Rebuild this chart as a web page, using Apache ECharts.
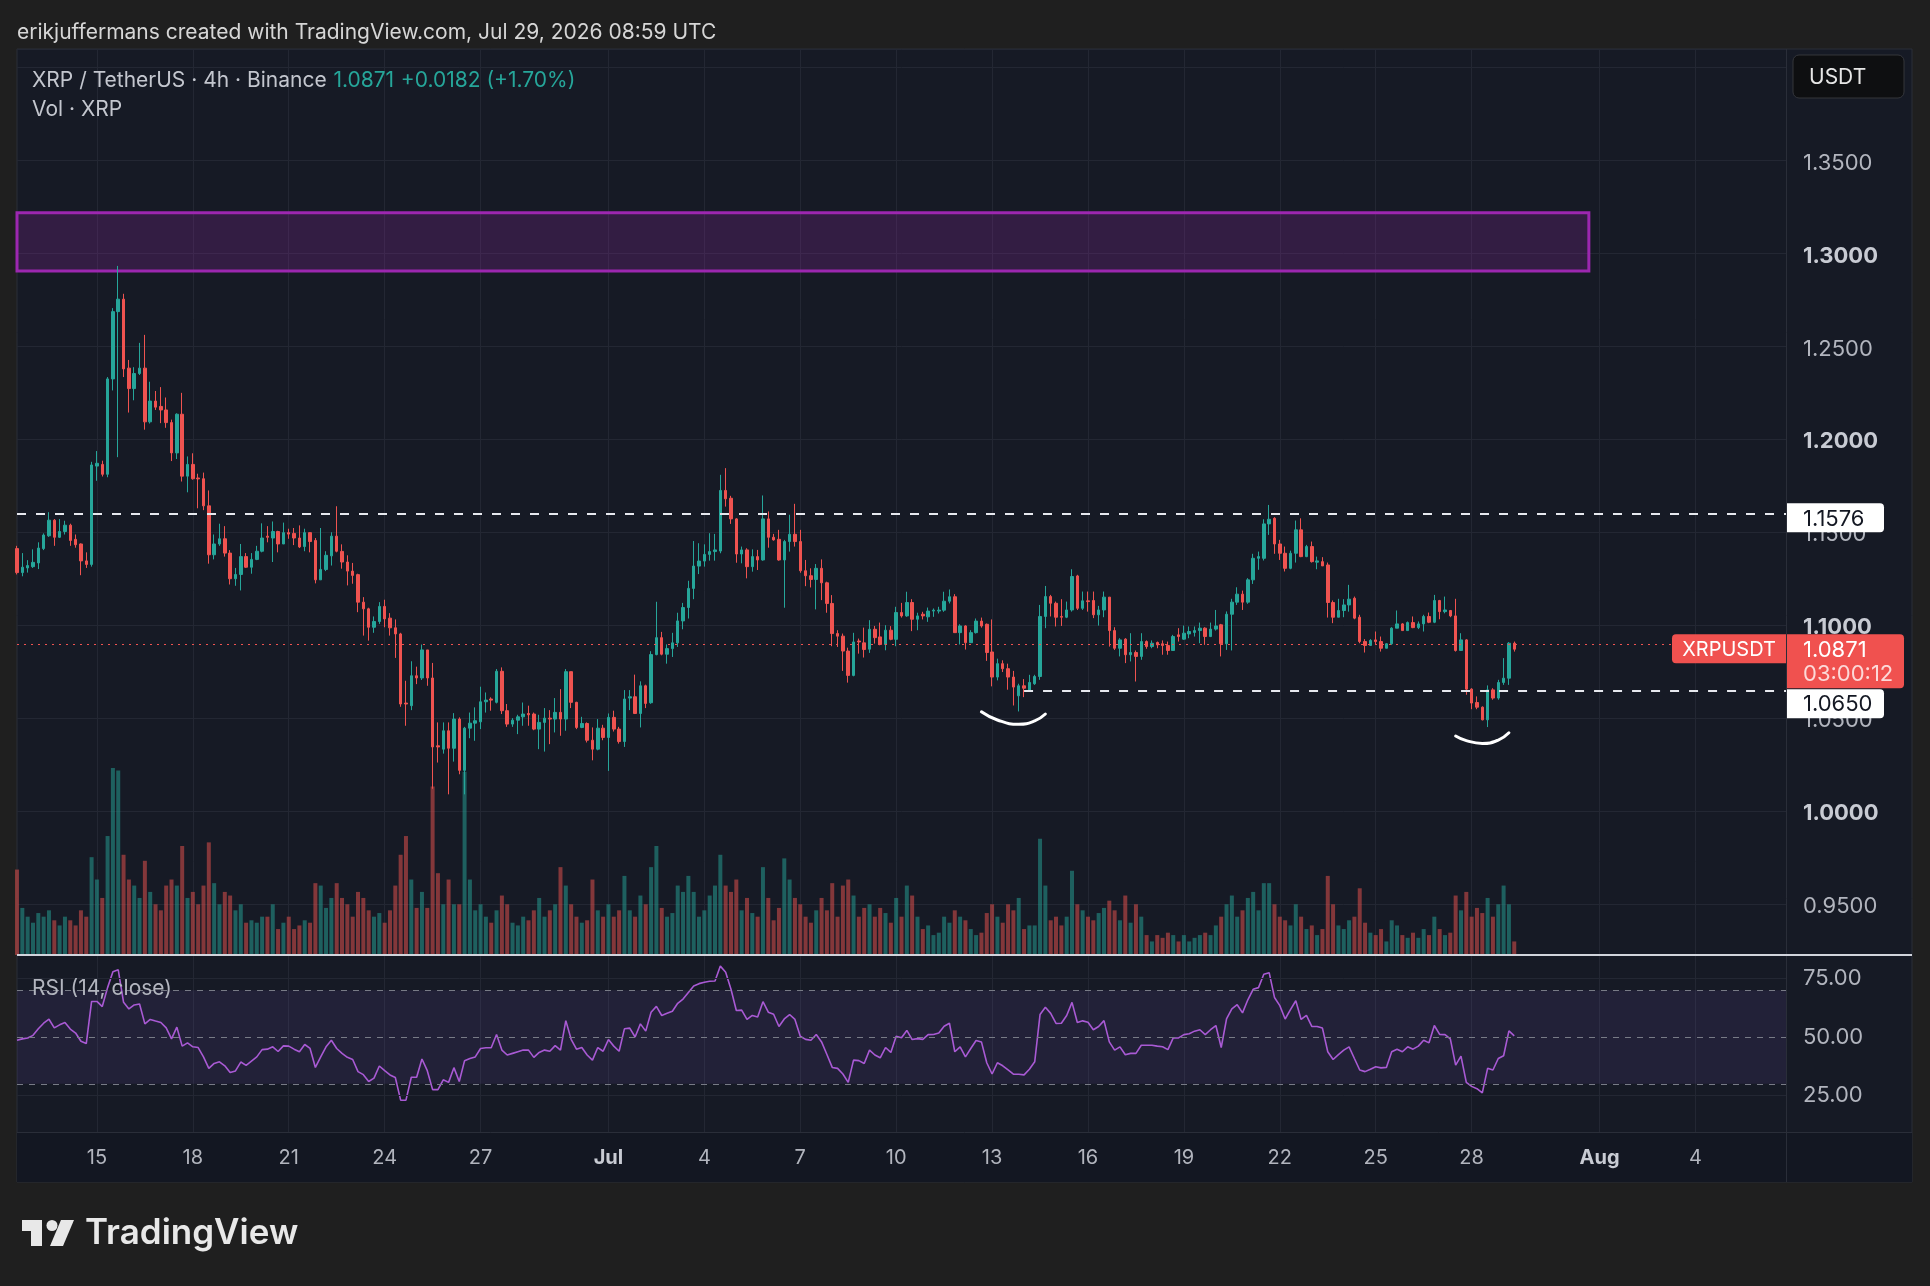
<!DOCTYPE html>
<html>
<head>
<meta charset="utf-8">
<style>
  html, body { margin: 0; padding: 0; background: #1f1f1f; }
  #main { width: 1930px; height: 1286px; }
</style>
<script src="https://cdn.jsdelivr.net/npm/echarts@6/dist/echarts.min.js"></script>
</head>
<body>
<div id="main"></div>
<script>
// XRP/USDT 4h candles starting 2026-06-12 12:00 UTC, each row [open, close, low, high]
var ohlc = [
  [1.1412,1.1283,1.1273,1.1427],[1.1283,1.1312,1.1263,1.1388],[1.1308,1.1321,1.1283,1.1350],[1.1315,1.1338,1.1308,1.1408],
  [1.1335,1.1415,1.1302,1.1446],[1.1412,1.1485,1.1404,1.1494],[1.1481,1.1565,1.1475,1.1608],[1.1565,1.1473,1.1427,1.1571],
  [1.1473,1.1504,1.1469,1.1571],[1.1504,1.1538,1.1488,1.1562],[1.1538,1.1456,1.1427,1.1546],[1.1462,1.1433,1.1417,1.1488],
  [1.1437,1.1346,1.1269,1.1440],[1.1346,1.1327,1.1308,1.1392],[1.1327,1.1862,1.1315,1.1879],[1.1856,1.1871,1.1777,1.1937],
  [1.1865,1.1812,1.1800,1.1885],[1.1812,1.2325,1.1796,1.2335],[1.2325,1.2687,1.2263,1.2706],[1.2687,1.2754,1.1904,1.2933],
  [1.2754,1.2379,1.2335,1.2783],[1.2383,1.2273,1.2144,1.2427],[1.2273,1.2354,1.2210,1.2388],[1.2354,1.2383,1.2346,1.2519],
  [1.2383,1.2094,1.2052,1.2562],[1.2094,1.2206,1.2085,1.2310],[1.2206,1.2173,1.2158,1.2260],[1.2177,1.2158,1.2087,1.2281],
  [1.2158,1.2090,1.2062,1.2225],[1.2090,1.1927,1.1883,1.2106],[1.1927,1.2135,1.1894,1.2140],[1.2135,1.1802,1.1773,1.2250],
  [1.1802,1.1865,1.1715,1.1908],[1.1865,1.1788,1.1783,1.1925],[1.1792,1.1787,1.1629,1.1815],[1.1788,1.1642,1.1619,1.1821],
  [1.1642,1.1379,1.1331,1.1725],[1.1379,1.1437,1.1354,1.1488],[1.1437,1.1465,1.1427,1.1546],[1.1465,1.1388,1.1369,1.1533],
  [1.1388,1.1250,1.1219,1.1404],[1.1250,1.1273,1.1212,1.1308],[1.1273,1.1369,1.1187,1.1437],[1.1369,1.1312,1.1308,1.1388],
  [1.1312,1.1354,1.1277,1.1388],[1.1354,1.1398,1.1350,1.1427],[1.1398,1.1469,1.1392,1.1548],[1.1479,1.1473,1.1446,1.1533],
  [1.1469,1.1504,1.1340,1.1558],[1.1504,1.1437,1.1392,1.1508],[1.1437,1.1498,1.1437,1.1552],[1.1498,1.1490,1.1465,1.1519],
  [1.1494,1.1469,1.1431,1.1523],[1.1469,1.1421,1.1415,1.1537],[1.1423,1.1498,1.1398,1.1519],[1.1498,1.1450,1.1392,1.1500],
  [1.1456,1.1244,1.1225,1.1469],[1.1244,1.1300,1.1244,1.1523],[1.1300,1.1376,1.1291,1.1398],[1.1373,1.1479,1.1321,1.1500],
  [1.1479,1.1398,1.1392,1.1640],[1.1397,1.1340,1.1304,1.1435],[1.1340,1.1291,1.1214,1.1376],[1.1291,1.1268,1.1223,1.1335],
  [1.1272,1.1124,1.1070,1.1277],[1.1124,1.1088,1.0944,1.1151],[1.1088,1.0989,1.0917,1.1094],[1.0989,1.1020,1.0959,1.1047],
  [1.1020,1.1101,1.1007,1.1124],[1.1101,1.1034,1.0989,1.1137],[1.1038,1.0986,1.0944,1.1065],[1.0986,1.0953,1.0824,1.1031],
  [1.0953,1.0576,1.0561,1.0959],[1.0581,1.0576,1.0459,1.0701],[1.0567,1.0728,1.0543,1.0806],[1.0728,1.0716,1.0683,1.0777],
  [1.0716,1.0867,1.0705,1.0896],[1.0867,1.0716,1.0674,1.0867],[1.0716,1.0345,1.0120,1.0797],[1.0351,1.0345,1.0261,1.0477],
  [1.0333,1.0432,1.0309,1.0477],[1.0432,1.0338,1.0090,1.0477],[1.0338,1.0495,1.0266,1.0527],[1.0495,1.0219,1.0198,1.0504],
  [1.0219,1.0446,1.0090,1.0453],[1.0446,1.0473,1.0392,1.0530],[1.0473,1.0486,1.0378,1.0558],[1.0480,1.0588,1.0441,1.0669],
  [1.0588,1.0597,1.0530,1.0638],[1.0603,1.0597,1.0540,1.0612],[1.0585,1.0752,1.0579,1.0764],[1.0752,1.0540,1.0522,1.0773],
  [1.0540,1.0468,1.0453,1.0576],[1.0468,1.0489,1.0453,1.0500],[1.0489,1.0507,1.0414,1.0518],[1.0507,1.0522,1.0459,1.0584],
  [1.0525,1.0518,1.0459,1.0567],[1.0522,1.0441,1.0435,1.0530],[1.0441,1.0477,1.0333,1.0518],[1.0477,1.0500,1.0320,1.0554],
  [1.0500,1.0495,1.0360,1.0543],[1.0495,1.0531,1.0423,1.0608],[1.0531,1.0495,1.0405,1.0656],[1.0495,1.0750,1.0432,1.0764],
  [1.0750,1.0585,1.0554,1.0750],[1.0585,1.0450,1.0441,1.0588],[1.0450,1.0471,1.0446,1.0507],[1.0471,1.0381,1.0369,1.0477],
  [1.0381,1.0333,1.0273,1.0450],[1.0333,1.0446,1.0327,1.0495],[1.0446,1.0396,1.0381,1.0464],[1.0396,1.0504,1.0216,1.0525],
  [1.0504,1.0441,1.0428,1.0540],[1.0441,1.0374,1.0363,1.0453],[1.0374,1.0603,1.0345,1.0651],[1.0608,1.0615,1.0543,1.0651],
  [1.0615,1.0525,1.0522,1.0734],[1.0525,1.0674,1.0450,1.0698],[1.0674,1.0579,1.0554,1.0680],[1.0583,1.0842,1.0577,1.0860],
  [1.0842,1.0933,1.0838,1.1126],[1.0933,1.0844,1.0838,1.0964],[1.0844,1.0874,1.0793,1.0897],[1.0874,1.0905,1.0829,1.0959],
  [1.0905,1.1023,1.0883,1.1067],[1.1023,1.1095,1.0978,1.1120],[1.1095,1.1198,1.1036,1.1239],[1.1198,1.1318,1.1140,1.1453],
  [1.1318,1.1345,1.1275,1.1441],[1.1345,1.1381,1.1315,1.1435],[1.1381,1.1396,1.1347,1.1495],[1.1396,1.1405,1.1347,1.1491],
  [1.1399,1.1725,1.1387,1.1809],[1.1725,1.1680,1.1638,1.1845],[1.1683,1.1572,1.1545,1.1696],[1.1572,1.1383,1.1336,1.1576],
  [1.1383,1.1405,1.1333,1.1423],[1.1405,1.1315,1.1252,1.1414],[1.1315,1.1369,1.1288,1.1408],[1.1369,1.1351,1.1297,1.1405],
  [1.1351,1.1572,1.1347,1.1698],[1.1572,1.1473,1.1417,1.1612],[1.1473,1.1459,1.1455,1.1491],[1.1462,1.1351,1.1347,1.1513],
  [1.1351,1.1450,1.1094,1.1459],[1.1450,1.1489,1.1396,1.1594],[1.1489,1.1450,1.1423,1.1653],[1.1450,1.1293,1.1282,1.1513],
  [1.1293,1.1266,1.1210,1.1351],[1.1266,1.1246,1.1203,1.1306],[1.1246,1.1306,1.1085,1.1329],[1.1306,1.1228,1.1135,1.1354],
  [1.1228,1.1117,1.1067,1.1234],[1.1117,1.0955,1.0887,1.1162],[1.0955,1.0941,1.0883,1.0973],[1.0941,1.0861,1.0754,1.0955],
  [1.0861,1.0730,1.0691,1.0879],[1.0730,1.0910,1.0725,1.0959],[1.0915,1.0910,1.0847,1.0928],[1.0905,1.0869,1.0826,1.0987],
  [1.0871,1.0978,1.0851,1.1027],[1.0978,1.0933,1.0901,1.0996],[1.0937,1.0896,1.0892,1.1014],[1.0896,1.0973,1.0865,1.1000],
  [1.0973,1.0924,1.0919,1.0995],[1.0924,1.1068,1.0887,1.1099],[1.1068,1.1050,1.1041,1.1120],[1.1050,1.1122,1.1045,1.1180],
  [1.1122,1.1032,1.0968,1.1140],[1.1032,1.1050,1.0973,1.1067],[1.1059,1.1050,1.1031,1.1072],[1.1045,1.1076,1.1018,1.1095],
  [1.1076,1.1081,1.1045,1.1090],[1.1076,1.1081,1.1063,1.1099],[1.1081,1.1129,1.1072,1.1180],[1.1129,1.1153,1.1117,1.1192],
  [1.1153,1.0960,1.0959,1.1167],[1.0960,1.0996,1.0896,1.1005],[1.0996,1.0906,1.0869,1.1000],[1.0906,1.0960,1.0905,1.0973],
  [1.0960,1.1022,1.0955,1.1036],[1.1022,1.0996,1.0987,1.1041],[1.1005,1.0853,1.0808,1.1009],[1.0856,1.0721,1.0671,1.1031],
  [1.0721,1.0793,1.0703,1.0820],[1.0793,1.0766,1.0748,1.0811],[1.0766,1.0721,1.0653,1.0793],[1.0721,1.0667,1.0568,1.0754],
  [1.0620,1.0674,1.0536,1.0685],[1.0674,1.0661,1.0613,1.0710],[1.0649,1.0692,1.0643,1.0733],[1.0685,1.0724,1.0679,1.0733],
  [1.0724,1.1047,1.0706,1.1109],[1.1047,1.1154,1.0984,1.1211],[1.1154,1.1118,1.1047,1.1163],[1.1118,1.1043,1.0993,1.1127],
  [1.1047,1.1043,1.0996,1.1140],[1.1043,1.1082,1.1038,1.1127],[1.1082,1.1262,1.1073,1.1301],[1.1265,1.1091,1.1082,1.1271],
  [1.1091,1.1131,1.1082,1.1181],[1.1131,1.1127,1.1073,1.1181],[1.1133,1.1056,1.1038,1.1181],[1.1056,1.1082,1.0998,1.1104],
  [1.1082,1.1151,1.1043,1.1181],[1.1151,1.0971,1.0885,1.1151],[1.0971,1.0876,1.0867,1.0989],[1.0876,1.0921,1.0832,1.0930],
  [1.0925,1.0841,1.0796,1.0930],[1.0841,1.0853,1.0805,1.0957],[1.0853,1.0832,1.0697,1.0864],[1.0832,1.0912,1.0814,1.0957],
  [1.0912,1.0885,1.0873,1.0918],[1.0885,1.0903,1.0876,1.0918],[1.0907,1.0894,1.0876,1.0912],[1.0900,1.0891,1.0841,1.0918],
  [1.0891,1.0864,1.0841,1.0912],[1.0864,1.0939,1.0864,1.0948],[1.0948,1.0939,1.0912,1.0984],[1.0925,1.0957,1.0921,1.0998],
  [1.0953,1.0966,1.0930,1.0993],[1.0961,1.0971,1.0939,1.0993],[1.0971,1.0984,1.0903,1.1014],[1.0984,1.0939,1.0894,1.0989],
  [1.0939,1.0979,1.0936,1.1014],[1.0979,1.0996,1.0971,1.1082],[1.1002,1.0900,1.0832,1.1007],[1.0900,1.1059,1.0867,1.1074],
  [1.1059,1.1124,1.0864,1.1142],[1.1124,1.1167,1.1109,1.1204],[1.1167,1.1124,1.1082,1.1186],[1.1124,1.1244,1.1115,1.1253],
  [1.1244,1.1360,1.1222,1.1384],[1.1360,1.1369,1.1298,1.1396],[1.1360,1.1545,1.1348,1.1570],[1.1545,1.1570,1.1486,1.1647],
  [1.1575,1.1437,1.1384,1.1581],[1.1437,1.1387,1.1351,1.1459],[1.1387,1.1306,1.1289,1.1423],[1.1306,1.1387,1.1301,1.1401],
  [1.1387,1.1513,1.1337,1.1563],[1.1513,1.1369,1.1366,1.1575],[1.1369,1.1423,1.1366,1.1432],[1.1423,1.1342,1.1337,1.1450],
  [1.1339,1.1346,1.1301,1.1369],[1.1342,1.1319,1.1319,1.1366],[1.1324,1.1122,1.1041,1.1337],[1.1122,1.1043,1.1011,1.1133],
  [1.1043,1.1079,1.1043,1.1142],[1.1079,1.1109,1.1043,1.1140],[1.1109,1.1140,1.1073,1.1217],[1.1145,1.1038,1.1032,1.1154],
  [1.1043,1.0912,1.0903,1.1056],[1.0912,1.0891,1.0853,1.0925],[1.0891,1.0918,1.0889,1.0925],[1.0921,1.0912,1.0894,1.0966],
  [1.0912,1.0876,1.0858,1.0939],[1.0876,1.0900,1.0876,1.0903],[1.0900,1.0984,1.0894,1.0989],[1.0984,1.1007,1.0984,1.1079],
  [1.1007,1.0971,1.0971,1.1011],[1.0971,1.1014,1.0971,1.1020],[1.1014,1.0987,1.0984,1.1047],[1.0987,1.1007,1.0979,1.1020],
  [1.1007,1.1047,1.0966,1.1056],[1.1047,1.1016,1.1011,1.1068],[1.1016,1.1133,1.1011,1.1163],[1.1133,1.1073,1.1032,1.1136],
  [1.1073,1.1082,1.1064,1.1154],[1.1079,1.1050,1.1043,1.1082],[1.1050,1.0864,1.0858,1.1142],[1.0864,1.0921,1.0862,1.0957],
  [1.0921,1.0656,1.0626,1.0925],[1.0656,1.0581,1.0548,1.0661],[1.0584,1.0559,1.0548,1.0617],[1.0559,1.0491,1.0488,1.0563],
  [1.0491,1.0652,1.0452,1.0676],[1.0652,1.0608,1.0599,1.0661],[1.0608,1.0692,1.0599,1.0706],[1.0692,1.0715,1.0679,1.0823],
  [1.0715,1.0903,1.0679,1.0909],[1.0903,1.0871,1.0858,1.0912]
];

// volume per candle, millions of XRP
var volumes = [
  28.3,15.6,12.7,10.7,13.9,12.7,14.8,11.5,9.8,12.7,11.5,9.8,14.8,12.7,32.4,25.0,18.9,39.4,61.9,61.1,
  33.2,25.0,23.0,18.9,31.2,20.9,16.8,14.8,23.0,25.0,23.0,36.1,18.9,20.9,16.8,23.0,37.3,23.8,16.8,20.9,
  19.7,14.8,16.8,10.7,11.5,10.7,12.7,12.7,16.8,8.6,10.7,12.7,8.6,9.8,11.5,10.7,23.8,23.0,15.6,18.9,
  23.8,18.9,16.8,12.7,20.9,18.9,14.8,12.7,13.9,10.7,14.8,23.0,33.2,39.4,25.0,15.6,20.9,15.6,55.8,27.1,
  16.8,25.0,16.8,16.8,60.7,25.0,14.8,16.8,12.7,10.7,14.8,19.7,16.8,10.7,9.8,12.7,11.5,14.8,18.9,12.7,
  14.8,16.8,29.1,23.0,16.8,12.7,10.7,11.5,25.0,14.8,12.7,16.8,12.7,14.8,26.2,14.8,12.7,19.7,16.8,29.1,
  36.1,15.6,12.7,13.9,23.0,20.9,26.2,20.9,12.7,14.8,19.7,23.0,33.2,23.0,20.9,25.0,14.8,18.9,13.9,12.7,
  29.1,18.9,11.5,15.6,32.0,25.0,18.9,16.8,12.7,10.7,14.8,18.9,14.8,23.8,12.7,23.0,25.0,19.7,12.7,15.6,
  16.8,12.7,15.6,13.9,10.7,18.9,12.7,23.0,19.7,12.7,8.6,9.8,6.6,7.4,12.7,10.7,14.8,12.7,11.5,8.6,
  6.6,7.4,13.9,16.8,12.7,10.7,16.8,14.8,18.9,8.6,9.8,9.8,38.5,23.0,11.5,12.7,9.8,12.7,27.9,16.8,
  14.8,12.7,11.5,13.9,15.6,18.0,14.8,11.5,19.7,10.7,16.8,12.7,6.6,4.5,6.6,5.7,7.4,6.6,4.5,6.6,
  4.5,5.7,6.6,7.4,6.6,9.8,12.7,16.8,19.7,12.7,14.8,18.9,20.9,14.8,23.8,23.8,16.8,12.7,11.5,9.8,
  16.8,12.7,8.6,9.8,6.6,8.6,26.2,16.8,9.8,8.6,11.5,12.7,22.1,10.7,7.4,6.6,8.6,4.5,11.5,9.8,
  6.6,5.7,7.4,5.7,8.6,6.6,12.7,8.6,6.6,7.4,19.7,14.8,20.9,12.7,15.6,13.9,18.9,12.7,16.8,23.0,
  16.8,4.5
];

// RSI(14, close) per candle as plotted
var rsiValues = [
  48.6,49.2,49.6,50.7,53.5,55.9,57.6,53.9,55.2,56.2,53.4,51.7,48.2,47.2,65.2,65.2,63.0,71.1,77.9,78.7,
  64.8,62.0,63.7,64.1,55.6,57.5,56.8,56.2,53.9,49.2,54.2,46.1,47.5,45.8,45.5,41.5,36.6,38.7,39.4,37.7,
  34.8,35.5,39.3,37.9,39.7,41.5,44.6,44.8,45.8,43.8,46.2,46.1,44.8,43.7,46.8,45.1,37.0,41.5,45.8,48.6,
  45.1,43.0,41.3,40.4,35.2,33.9,31.0,32.4,37.6,35.6,33.8,32.7,23.0,23.0,32.8,32.8,40.6,35.6,27.5,27.5,
  31.7,30.6,36.9,31.0,39.9,40.8,41.5,45.1,45.4,45.4,51.1,44.4,42.3,43.0,43.7,44.4,44.4,41.3,43.4,44.4,
  43.9,46.3,44.4,57.0,49.0,44.8,45.5,42.3,40.1,45.5,43.9,48.9,46.1,43.9,53.5,53.8,50.0,55.6,52.5,60.6,
  63.1,59.2,60.1,61.0,64.4,66.2,69.0,71.8,72.8,73.4,73.8,73.9,80.3,77.7,70.4,61.3,61.5,57.5,59.2,58.5,
  65.1,60.6,59.7,54.5,57.7,59.6,57.5,50.3,49.0,48.6,51.1,47.9,42.5,37.0,36.6,34.2,30.6,40.1,39.9,38.7,
  44.4,42.3,41.1,45.5,43.4,50.3,49.7,52.8,48.9,49.3,49.0,51.0,51.1,51.7,54.6,55.9,43.7,45.8,41.5,45.1,
  48.5,47.9,39.0,34.2,39.0,37.7,35.9,34.1,34.1,33.8,36.2,39.4,59.6,62.7,60.1,55.8,55.9,59.2,64.8,56.2,
  56.9,56.3,53.1,54.5,57.0,47.9,44.4,45.8,42.4,43.0,43.0,46.5,46.5,46.5,46.1,45.8,44.6,49.6,49.6,51.0,
  51.4,52.5,53.1,51.0,53.1,54.9,45.5,57.7,62.0,63.8,60.3,65.9,70.4,71.1,76.8,77.5,66.9,63.4,57.7,61.7,
  65.5,57.5,59.2,54.5,54.5,53.8,43.7,40.4,42.5,44.4,45.8,40.8,35.9,35.2,36.2,37.3,36.8,37.0,43.7,44.8,
  43.7,45.8,44.8,46.1,48.6,47.5,54.9,51.1,51.0,49.2,38.0,41.8,30.6,28.9,27.9,26.1,36.6,35.9,40.8,42.0,
  52.6,50.5
];

// x axis: one slot per 4h bar from Jun 12 12:00 to Aug 6 20:00
var START_UTC = Date.UTC(2026, 5, 12, 12);
var SLOT_COUNT = 333;
var categories = [];
for (var i = 0; i < SLOT_COUNT; i++) {
  categories.push(new Date(START_UTC + i * 4 * 3600000).toISOString().slice(0, 16).replace('T', ' '));
}

var timeTicks = {
  '2026-06-15 00:00': '15', '2026-06-18 00:00': '18', '2026-06-21 00:00': '21',
  '2026-06-24 00:00': '24', '2026-06-27 00:00': '27', '2026-07-01 00:00': 'Jul',
  '2026-07-04 00:00': '4', '2026-07-07 00:00': '7', '2026-07-10 00:00': '10',
  '2026-07-13 00:00': '13', '2026-07-16 00:00': '16', '2026-07-19 00:00': '19',
  '2026-07-22 00:00': '22', '2026-07-25 00:00': '25', '2026-07-28 00:00': '28',
  '2026-08-01 00:00': 'Aug', '2026-08-04 00:00': '4'
};

// annotations
var resistance = 1.1576;
var support = 1.0650;
var lastPrice = 1.0871;
var supplyZone = [1.2906, 1.3219];
var supplyZoneEnd = 295;
var supportStart = 189;
var smileA = [[181, 1.0534], [184, 1.0490], [188, 1.0467], [191, 1.0485], [193, 1.0522]];
var smileB = [[270, 1.0404], [272, 1.0379], [275, 1.0364], [278, 1.0382], [280, 1.0421]];

var FONT = "Inter, 'Noto Sans', sans-serif";
var UP = '#26a69a', DOWN = '#ef5350';
var GRID_LINE = '#232733';
var PANE_L = 17, PANE_R = 144;

var chart = echarts.init(document.getElementById('main'));

var volData = volumes.map(function (v, k) {
  var up = ohlc[k][1] >= ohlc[k][0];
  return { value: v, itemStyle: { color: up ? 'rgba(38,166,154,0.5)' : 'rgba(239,83,80,0.5)' } };
});

function isTick(idx, val) { return timeTicks[val] != null; }

function smileSeries(pts) {
  return {
    type: 'line', xAxisIndex: 0, yAxisIndex: 0, smooth: true, symbol: 'none', silent: true,
    data: pts.map(function (p) { return [categories[p[0]], p[1]]; }),
    lineStyle: { color: '#ffffff', width: 3, cap: 'round' }, z: 5
  };
}

var option = {
  backgroundColor: '#1f1f1f',
  animation: false,
  grid: [
    { left: PANE_L, right: PANE_R, top: 49, height: 855, outerBoundsMode: 'none' },
    { left: PANE_L, right: PANE_R, top: 49, bottom: 154, outerBoundsMode: 'none' },
    { left: PANE_L, right: PANE_R, top: 920, height: 234, outerBoundsMode: 'none' }
  ],
  xAxis: [
    { type: 'category', gridIndex: 0, data: categories, boundaryGap: false, show: false },
    {
      type: 'category', gridIndex: 1, data: categories, boundaryGap: false,
      axisLine: { show: false }, axisTick: { show: false },
      axisLabel: {
        interval: isTick, margin: 16, color: '#b2b5be', fontSize: 20, fontFamily: FONT,
        formatter: function (val) {
          var t = timeTicks[val];
          return (t === 'Jul' || t === 'Aug') ? '{b|' + t + '}' : '{n|' + t + '}';
        },
        rich: {
          n: { color: '#b2b5be', fontSize: 20, fontFamily: FONT },
          b: { color: '#c8cbd3', fontSize: 20, fontFamily: FONT, fontWeight: 'bold' }
        }
      },
      splitLine: { show: true, interval: isTick, lineStyle: { color: GRID_LINE, width: 1 } }
    },
    { type: 'category', gridIndex: 2, data: categories, boundaryGap: false, show: false }
  ],
  yAxis: [
    {
      type: 'value', gridIndex: 0, position: 'right', min: 0.95, max: 1.41, interval: 0.05,
      axisLine: { show: false }, axisTick: { show: false },
      splitLine: { lineStyle: { color: GRID_LINE, width: 1 } },
      axisLabel: {
        margin: 17, showMaxLabel: false, padding: [5, 0, 0, 0],
        formatter: function (v) {
          if (v > 1.39) return '';
          var s = v.toFixed(4);
          return Math.round(v * 100) % 10 === 0 ? '{b|' + s + '}' : '{n|' + s + '}';
        },
        rich: {
          n: { color: '#b2b5be', fontSize: 22, fontFamily: FONT },
          b: { color: '#c8cbd3', fontSize: 22, fontFamily: FONT, fontWeight: 'bold' }
        }
      }
    },
    { type: 'value', gridIndex: 1, min: -58.6, max: 300, show: false, splitLine: { show: false } },
    {
      type: 'value', gridIndex: 2, position: 'right', min: 0, max: 100, interval: 25,
      axisLine: { show: false }, axisTick: { show: false }, splitLine: { show: false },
      axisLabel: {
        margin: 17, showMinLabel: false, showMaxLabel: false, color: '#b2b5be', fontSize: 22, fontFamily: FONT,
        padding: [2, 0, 0, 0],
        formatter: function (v) { return v.toFixed(2); }
      }
    }
  ],
  series: [
    {
      name: 'Vol', type: 'bar', xAxisIndex: 1, yAxisIndex: 1, data: volData, barWidth: 4, silent: true
    },
    {
      name: 'XRPUSDT', type: 'candlestick', xAxisIndex: 0, yAxisIndex: 0, data: ohlc, barWidth: 3,
      itemStyle: { color: UP, color0: DOWN, borderColor: UP, borderColor0: DOWN, borderWidth: 1 },
      markArea: {
        silent: true,
        itemStyle: { color: 'rgba(156,39,176,0.22)', borderColor: '#9c27b0', borderWidth: 3 },
        data: [[{ yAxis: supplyZone[0] }, { xAxis: categories[supplyZoneEnd], yAxis: supplyZone[1] }]]
      },
      markLine: {
        silent: true, symbol: ['none', 'none'], label: { show: false },
        data: [
          { yAxis: resistance, lineStyle: { color: '#e6e8ee', type: [9, 10], width: 2 } },
          [
            { xAxis: categories[supportStart], yAxis: support, lineStyle: { color: '#e6e8ee', type: [9, 10], width: 2 } },
            { xAxis: categories[SLOT_COUNT - 1], yAxis: support }
          ],
          { yAxis: lastPrice, lineStyle: { color: DOWN, type: [2, 5], width: 1 } }
        ]
      },
      z: 3
    },
    smileSeries(smileA),
    smileSeries(smileB),
    {
      name: 'RSI', type: 'line', xAxisIndex: 2, yAxisIndex: 2, data: rsiValues, symbol: 'none', silent: true,
      lineStyle: { color: '#a95ad4', width: 1.6 },
      markArea: {
        silent: true, itemStyle: { color: 'rgba(126,87,194,0.12)' },
        data: [[{ yAxis: 30 }, { yAxis: 70 }]]
      },
      markLine: {
        silent: true, symbol: ['none', 'none'], label: { show: false },
        data: [
          { yAxis: 75, lineStyle: { color: GRID_LINE, type: 'solid', width: 1 } },
          { yAxis: 25, lineStyle: { color: GRID_LINE, type: 'solid', width: 1 } },
          { yAxis: 70, lineStyle: { color: '#787b86', type: [6, 6], width: 1 } },
          { yAxis: 50, lineStyle: { color: '#787b86', type: [6, 6], width: 1 } },
          { yAxis: 30, lineStyle: { color: '#787b86', type: [6, 6], width: 1 } }
        ]
      }
    }
  ]
};

chart.setOption(option);

// price tags on the right scale, placed from the axis
var axisX = chart.convertToPixel({ xAxisIndex: 0 }, categories[SLOT_COUNT - 1]) + 1;
var yRes = chart.convertToPixel({ yAxisIndex: 0 }, resistance);
var ySup = chart.convertToPixel({ yAxisIndex: 0 }, support);
var yLast = chart.convertToPixel({ yAxisIndex: 0 }, lastPrice);

var graphics = [
  // panes
  { type: 'rect', z: -100, silent: true, shape: { x: 17, y: 49, width: 1895, height: 1133 }, style: { fill: '#161a25', stroke: '#2a2e39', lineWidth: 1 } },
  { type: 'rect', z: -99, silent: true, shape: { x: 17, y: 1132, width: 1895, height: 50 }, style: { fill: '#131722' } },
  { type: 'line', z: 40, silent: true, shape: { x1: 1786.5, y1: 49, x2: 1786.5, y2: 1182 }, style: { stroke: '#2a2e39', lineWidth: 1 } },
  { type: 'line', z: 40, silent: true, shape: { x1: 17, y1: 1132.5, x2: 1912, y2: 1132.5 }, style: { stroke: '#2a2e39', lineWidth: 1 } },
  { type: 'line', z: 40, silent: true, shape: { x1: 17, y1: 955, x2: 1912, y2: 955 }, style: { stroke: '#d1d4dc', lineWidth: 2 } },
  // header
  { type: 'text', x: 17, y: 33, silent: true, style: { text: 'erikjuffermans created with TradingView.com, Jul 29, 2026 08:59 UTC', fill: '#d6d6d6', fontSize: 21, fontFamily: FONT, verticalAlign: 'middle' } },
  {
    type: 'text', x: 32, y: 81, silent: true, z: 60,
    style: {
      text: '{a|XRP / TetherUS · 4h · Binance}  {b|1.0871}  {b|+0.0182 (+1.70%)}', verticalAlign: 'middle',
      rich: { a: { fill: '#c3c6ce', fontSize: 21, fontFamily: FONT }, b: { fill: '#26a69a', fontSize: 21, fontFamily: FONT } }
    }
  },
  { type: 'text', x: 32, y: 110, silent: true, z: 60, style: { text: 'Vol · XRP', fill: '#c3c6ce', fontSize: 21, fontFamily: FONT, verticalAlign: 'middle' } },
  { type: 'text', x: 32, y: 989, silent: true, z: 60, style: { text: 'RSI (14, close)', fill: '#b2b5be', fontSize: 21, fontFamily: FONT, verticalAlign: 'middle' } },
  // currency button
  { type: 'rect', z: 60, silent: true, shape: { x: 1793, y: 55, width: 111, height: 43, r: 6 }, style: { fill: '#0e0f11', stroke: '#34363b', lineWidth: 1 } },
  { type: 'text', z: 61, silent: true, x: 1809, y: 78, style: { text: 'USDT', fill: '#e6e6e6', fontSize: 21, fontFamily: FONT, verticalAlign: 'middle' } },
  // resistance tag
  { type: 'rect', z: 60, silent: true, shape: { x: axisX, y: yRes - 15, width: 97, height: 29, r: [0, 4, 4, 0] }, style: { fill: '#ffffff' } },
  { type: 'text', z: 61, silent: true, x: axisX + 16, y: yRes + 1, style: { text: resistance.toFixed(4), fill: '#131722', fontSize: 22, fontFamily: FONT, verticalAlign: 'middle' } },
  // support tag (pushed below the last-price tag)
  { type: 'rect', z: 60, silent: true, shape: { x: axisX, y: ySup - 1, width: 97, height: 29, r: [0, 4, 4, 0] }, style: { fill: '#ffffff' } },
  { type: 'text', z: 61, silent: true, x: axisX + 16, y: ySup + 14.5, style: { text: support.toFixed(4), fill: '#131722', fontSize: 22, fontFamily: FONT, verticalAlign: 'middle' } },
  // last price tag + countdown
  { type: 'rect', z: 62, silent: true, shape: { x: axisX, y: yLast - 15, width: 117, height: 54, r: [0, 4, 4, 0] }, style: { fill: '#f0514f' } },
  { type: 'text', z: 63, silent: true, x: axisX + 16, y: yLast + 1, style: { text: lastPrice.toFixed(4), fill: '#ffffff', fontSize: 22, fontFamily: FONT, verticalAlign: 'middle' } },
  { type: 'text', z: 63, silent: true, x: axisX + 16, y: yLast + 25, style: { text: '03:00:12', fill: 'rgba(255,255,255,0.78)', fontSize: 22, fontFamily: FONT, verticalAlign: 'middle' } },
  { type: 'rect', z: 62, silent: true, shape: { x: axisX - 115, y: yLast - 15, width: 114, height: 29, r: [4, 0, 0, 4] }, style: { fill: '#f0514f' } },
  { type: 'text', z: 63, silent: true, x: axisX - 58, y: yLast + 1, style: { text: 'XRPUSDT', fill: '#ffffff', fontSize: 20, fontFamily: FONT, align: 'center', verticalAlign: 'middle' } },
  // TradingView mark
  { type: 'rect', silent: true, shape: { x: 22, y: 1220, width: 20, height: 11 }, style: { fill: '#e8e8e8' } },
  { type: 'rect', silent: true, shape: { x: 31, y: 1220, width: 11, height: 26 }, style: { fill: '#e8e8e8' } },
  { type: 'circle', silent: true, shape: { cx: 52, cy: 1225.5, r: 5.5 }, style: { fill: '#e8e8e8' } },
  { type: 'polygon', silent: true, shape: { points: [[61, 1220], [74, 1220], [63, 1246], [50, 1246]] }, style: { fill: '#e8e8e8' } },
  { type: 'text', silent: true, x: 85, y: 1233, style: { text: 'TradingView', fill: '#e8e8e8', fontSize: 35, fontWeight: 600, fontFamily: FONT, verticalAlign: 'middle' } }
];

chart.setOption({ graphic: { elements: graphics } });
</script>
</body>
</html>
